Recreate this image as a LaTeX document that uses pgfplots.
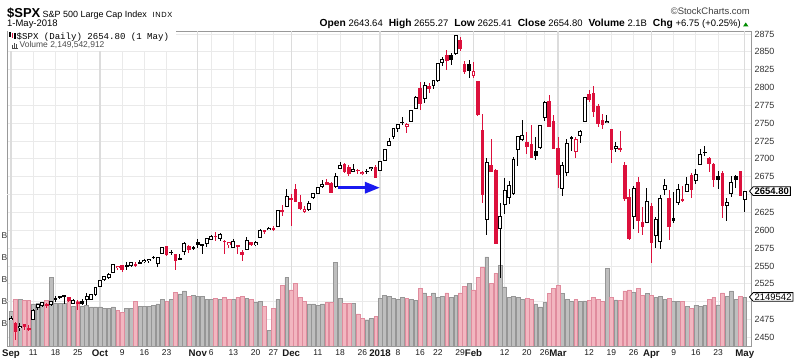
\documentclass[border=0pt]{standalone}
\usepackage{fontspec}
\setmainfont{Liberation Sans}
\setmonofont{Liberation Mono}
\usepackage{pgfplots}
\pgfplotsset{compat=1.18}
\usepackage{pgfplotstable}
\usetikzlibrary{arrows.meta,shapes.symbols}

\definecolor{cred}{RGB}{220,16,60}
\definecolor{vgray}{RGB}{190,190,190}
\definecolor{vgrayd}{RGB}{150,150,150}
\definecolor{vpink}{RGB}{242,182,192}
\definecolor{vpinkd}{RGB}{224,140,158}
\definecolor{gridc}{RGB}{234,234,234}
\definecolor{gridm}{RGB}{220,220,220}
\definecolor{arrblue}{RGB}{25,25,240}

% x index, t type (0 black hollow, 1 black filled, 2 red hollow, 3 red filled), OHLC, volume (billions)
\pgfplotstableread{
x t o h l c v
0 0 2474.42 2480.38 2473.85 2476.55 1.77
1 3 2470.35 2471.97 2446.55 2457.85 2.05
2 0 2463.83 2469.64 2459.20 2465.54 2.05
3 3 2468.06 2468.62 2460.29 2465.10 2.03
4 3 2462.25 2467.11 2459.40 2461.43 2.03
5 0 2474.52 2488.95 2474.52 2488.11 1.95
6 0 2491.94 2496.77 2488.92 2496.48 1.97
7 0 2493.89 2498.37 2492.14 2498.37 1.97
8 2 2494.56 2498.43 2491.35 2495.62 2.03
9 0 2495.67 2500.23 2493.16 2500.23 2.55
10 0 2502.51 2508.32 2499.92 2503.87 1.97
11 0 2506.29 2507.84 2503.19 2506.65 1.96
12 0 2506.84 2508.85 2496.67 2508.24 1.97
13 3 2507.16 2507.16 2499.00 2500.60 2.05
14 0 2497.26 2503.47 2496.54 2502.22 1.90
15 3 2499.39 2502.54 2488.03 2496.66 2.00
16 1 2501.04 2503.51 2495.12 2496.84 1.90
17 0 2503.30 2511.75 2495.91 2507.04 1.92
18 0 2503.41 2510.81 2502.93 2510.06 1.88
19 0 2509.96 2519.44 2507.99 2519.36 1.88
20 0 2521.20 2529.23 2520.40 2529.12 1.88
21 0 2530.34 2535.13 2528.85 2534.58 1.85
22 0 2533.48 2540.53 2531.80 2537.74 1.85
23 0 2540.86 2552.51 2540.02 2552.07 1.88
24 2 2547.44 2549.41 2543.79 2549.33 1.80
25 3 2551.39 2551.82 2541.60 2544.73 1.75
26 0 2549.99 2555.23 2544.86 2550.64 1.85
27 0 2550.62 2555.24 2547.95 2555.24 1.85
28 3 2552.88 2555.33 2548.31 2550.93 2.00
29 1 2555.66 2557.65 2552.09 2553.17 1.90
30 0 2555.57 2559.47 2553.86 2557.64 1.90
31 0 2557.17 2559.71 2554.69 2559.36 1.90
32 1 2562.87 2564.11 2559.67 2561.26 1.92
33 0 2553.39 2562.36 2547.92 2562.10 1.95
34 0 2567.56 2575.44 2567.56 2575.21 2.05
35 3 2578.08 2578.29 2564.33 2564.98 2.00
36 0 2568.66 2572.18 2565.58 2569.13 2.05
37 3 2566.52 2567.40 2544.00 2557.15 2.22
38 0 2560.08 2567.07 2559.80 2560.40 2.18
39 0 2570.26 2582.98 2565.94 2581.07 2.25
40 3 2577.75 2580.03 2568.25 2572.83 2.12
41 1 2575.99 2578.29 2572.15 2575.26 2.15
42 1 2583.21 2588.40 2574.92 2579.36 2.12
43 0 2579.46 2581.11 2566.17 2579.85 2.12
44 0 2581.93 2588.42 2576.77 2587.84 2.05
45 0 2587.47 2593.38 2585.66 2591.13 2.05
46 3 2592.11 2597.02 2584.35 2590.64 2.08
47 0 2588.71 2595.47 2585.02 2594.38 2.05
48 2 2584.00 2586.50 2566.33 2584.62 2.10
49 2 2580.18 2583.81 2575.57 2582.30 2.05
50 0 2576.53 2587.66 2574.48 2584.84 2.05
51 2 2577.75 2579.66 2566.56 2578.87 2.10
52 3 2569.45 2572.84 2557.45 2564.62 2.12
53 0 2572.95 2590.09 2572.95 2585.64 2.08
54 3 2582.94 2583.96 2577.62 2578.85 2.05
55 0 2579.49 2584.64 2578.24 2582.14 1.98
56 0 2589.17 2601.19 2589.17 2599.03 2.00
57 3 2600.31 2600.94 2595.23 2597.08 1.90
58 0 2600.42 2604.21 2600.42 2602.42 1.35
59 3 2602.66 2606.41 2598.87 2601.42 1.85
60 0 2605.94 2627.69 2605.44 2627.04 2.05
61 3 2627.82 2634.89 2620.32 2626.07 2.37
62 0 2633.93 2657.74 2633.93 2647.58 2.55
63 3 2645.10 2650.62 2605.52 2642.22 2.27
64 3 2657.19 2665.19 2639.03 2639.44 2.42
65 3 2639.78 2648.72 2627.73 2629.57 2.10
66 2 2626.24 2634.41 2624.75 2629.27 2.00
67 0 2628.38 2640.99 2626.53 2636.98 1.95
68 0 2646.21 2651.65 2644.10 2651.50 1.95
69 0 2652.19 2660.33 2651.47 2659.99 1.92
70 0 2661.73 2669.72 2659.78 2664.11 1.95
71 3 2667.59 2671.88 2662.85 2662.85 1.98
72 3 2665.87 2668.09 2652.01 2652.01 1.98
73 0 2660.63 2679.63 2659.14 2675.81 2.90
74 0 2685.92 2694.97 2685.92 2690.16 2.07
75 3 2692.71 2694.44 2680.74 2681.47 1.97
76 3 2688.18 2691.01 2676.11 2679.25 1.97
77 0 2683.02 2692.64 2682.40 2684.57 1.97
78 3 2684.22 2685.35 2678.13 2683.34 1.72
79 2 2679.09 2682.74 2677.96 2680.50 1.62
80 0 2682.10 2685.64 2678.91 2682.62 1.58
81 0 2686.10 2687.66 2682.69 2687.54 1.62
82 3 2689.15 2692.12 2673.61 2673.61 1.66
83 0 2683.73 2695.89 2682.36 2695.81 2.08
84 0 2697.85 2714.37 2697.77 2713.06 2.15
85 0 2719.31 2729.29 2719.07 2723.99 2.13
86 0 2731.33 2743.45 2727.92 2743.15 2.07
87 0 2742.67 2748.51 2737.60 2747.71 2.05
88 0 2751.15 2759.14 2747.86 2751.29 2.10
89 2 2745.55 2750.80 2736.06 2748.23 2.08
90 0 2752.97 2767.56 2752.78 2767.56 2.05
91 0 2770.18 2787.85 2769.64 2786.24 2.03
92 3 2798.96 2807.54 2768.64 2776.42 2.30
93 0 2784.99 2807.04 2778.38 2802.56 2.20
94 3 2802.40 2805.83 2792.56 2798.03 2.12
95 0 2802.60 2810.33 2798.08 2810.30 2.20
96 0 2809.16 2833.03 2808.12 2832.97 2.10
97 0 2835.05 2842.24 2830.59 2839.13 2.13
98 3 2845.42 2852.97 2824.81 2837.54 2.20
99 1 2846.24 2848.56 2830.94 2839.25 2.10
100 0 2847.48 2872.87 2846.18 2872.87 2.15
101 3 2867.23 2870.62 2851.48 2853.53 2.20
102 3 2832.74 2837.75 2818.27 2822.43 2.35
103 1 2832.41 2839.26 2813.04 2823.81 2.42
104 2 2816.45 2835.96 2812.70 2821.98 2.27
105 3 2808.92 2808.92 2759.97 2762.13 2.55
106 3 2741.06 2763.39 2638.17 2648.94 2.80
107 0 2614.78 2701.04 2593.07 2695.14 3.03
108 3 2690.95 2727.67 2681.33 2681.66 2.42
109 3 2685.01 2685.27 2580.56 2581.00 2.65
110 0 2601.78 2638.67 2532.69 2619.55 2.84
111 0 2636.75 2672.61 2622.45 2656.00 2.34
112 0 2646.27 2668.84 2637.08 2662.94 2.10
113 0 2651.21 2702.10 2648.87 2698.63 2.12
114 0 2713.46 2731.51 2689.82 2731.20 2.10
115 0 2727.14 2754.42 2725.11 2732.22 2.05
116 3 2722.99 2737.60 2706.76 2716.26 2.07
117 3 2720.53 2747.75 2701.29 2701.33 2.05
118 1 2710.42 2731.26 2697.77 2703.96 1.95
119 0 2715.80 2747.76 2713.74 2747.30 1.88
120 0 2757.37 2780.64 2753.78 2779.60 1.98
121 3 2780.45 2789.15 2744.22 2744.28 2.19
122 3 2753.78 2761.52 2713.54 2713.83 2.30
123 3 2715.22 2730.89 2659.65 2677.67 2.38
124 0 2658.89 2696.25 2647.32 2691.25 2.19
125 0 2681.06 2728.09 2675.75 2720.94 2.05
126 1 2730.18 2732.08 2711.26 2728.12 2.00
127 2 2710.18 2730.60 2701.74 2726.80 2.05
128 0 2732.75 2740.45 2721.65 2738.97 2.00
129 0 2752.91 2786.57 2751.54 2786.57 2.02
130 3 2790.54 2796.98 2779.26 2783.02 2.03
131 3 2792.31 2801.90 2758.68 2765.31 2.10
132 3 2774.06 2777.11 2744.38 2749.48 2.05
133 3 2754.27 2763.03 2741.47 2747.33 2.00
134 0 2750.57 2761.85 2749.97 2752.01 2.77
135 3 2741.38 2741.38 2694.59 2712.92 2.10
136 0 2715.05 2724.22 2710.05 2716.94 2.04
137 3 2714.99 2739.14 2709.79 2711.93 2.03
138 3 2691.36 2695.68 2641.59 2643.69 2.25
139 3 2646.71 2657.67 2585.89 2588.26 2.27
140 0 2619.35 2661.36 2601.81 2658.55 2.22
141 3 2667.57 2674.78 2596.12 2612.62 2.30
142 3 2611.30 2632.65 2593.06 2605.00 2.15
143 0 2610.79 2659.07 2609.72 2640.87 2.19
144 3 2633.45 2638.30 2553.80 2581.88 2.15
145 0 2592.17 2619.14 2575.49 2614.45 2.10
146 0 2584.04 2649.86 2573.61 2644.69 2.12
147 0 2657.36 2672.08 2649.58 2662.84 2.05
148 3 2645.82 2656.88 2586.27 2604.47 2.08
149 1 2617.18 2653.55 2610.79 2613.16 2.00
150 0 2638.41 2665.45 2635.78 2656.87 2.00
151 3 2643.74 2661.43 2639.25 2642.19 2.00
152 0 2653.83 2674.72 2653.83 2663.99 1.90
153 3 2676.90 2680.26 2645.05 2656.30 1.85
154 0 2670.10 2686.49 2665.16 2677.84 1.92
155 0 2692.74 2713.34 2692.05 2706.39 1.90
156 1 2710.11 2717.49 2703.63 2708.64 1.92
157 3 2701.16 2702.84 2681.90 2693.13 2.05
158 3 2692.56 2693.94 2660.61 2670.14 2.10
159 1 2675.40 2682.86 2657.99 2670.29 1.93
160 3 2680.80 2683.55 2617.32 2634.56 2.20
161 0 2634.92 2645.30 2612.67 2639.40 2.12
162 0 2651.65 2676.48 2647.16 2666.94 2.25
163 1 2675.47 2677.35 2659.01 2669.91 2.05
164 3 2682.51 2682.87 2648.04 2648.05 2.12
165 0 2643.64 2655.27 2625.41 2654.80 2.10
}\spx

\pgfplotsset{
  common/.style={scale only axis, width=744bp, height=315bp,
    at={(7bp,17bp)}, anchor=south west, xmin=-0.9, xmax=166.4},
  pricey/.style={ymin=2437.8, ymax=2879.2},
  ebar/.style 2 args={draw=none, mark=none,
    error bars/y dir=both, error bars/y explicit, error bars/error mark=none,
    error bars/error bar style={draw=#1, line width=#2, solid}},
}
\newcommand{\mon}[1]{\textbf{\fontsize{9.7}{10}\selectfont #1}}

\begin{document}
\begin{tikzpicture}
\path[use as bounding box] (0,0) rectangle (800bp,363bp);

% grid, frame and tick labels
\begin{axis}[common, pricey,
  axis line style={draw=black!40, line width=0.8bp},
  major tick length=0pt,
  ytick={2450,2475,2525,2550,2575,2600,2625,2675,2700,2725,2750,2775,2800,2825,2850,2875},
  extra y ticks={2500,2650}, extra y tick labels={},
  yticklabel pos=right,
  yticklabel={\pgfmathprintnumber[assume math mode=true,1000 sep={},fixed,precision=0]{\tick}},
  y tick label style={font=\fontsize{9}{10}\selectfont, color=black!80},
  xtick={0,5,10,15,20,25,30,35,42,45,50,55,59,63,69,74,79,83,87,92,96,101,104,111,116,120,123,130,135,140,144,149,154,159,165},
  xticklabels={\mon{Sep},11,18,25,\mon{Oct},9,16,23,\mon{Nov},6,13,20,27,\mon{Dec},11,18,26,\mon{2018},8,16,22,29,\mon{Feb},12,20,26,\mon{Mar},12,19,26,\mon{Apr},9,16,23,\mon{May}},
  x tick label style={font=\fontsize{8.5}{10}\selectfont, color=black!90},
  xmajorgrids, ymajorgrids,
  major grid style={draw=gridc, line width=0.8bp},
]
\addplot[draw=none] coordinates {(0,2500)};
\pgfplotsinvokeforeach{0,20,42,63,83,104,123,144,165}{
  \draw[draw=gridm, line width=1.3bp] (axis cs:#1,2437.8) -- (axis cs:#1,2879.2);
}
\end{axis}

% volume
\begin{axis}[common, hide axis, ymin=0.984, ymax=8.209]
\addplot[ybar, bar shift=0pt, bar width=3.8bp, fill=vgray, draw=vgrayd, line width=0.5bp,
  restrict expr to domain={\thisrow{t}}{0:1}] table[x=x, y=v]{\spx};
\addplot[ybar, bar shift=0pt, bar width=3.8bp, fill=vpink, draw=vpinkd, line width=0.5bp,
  restrict expr to domain={\thisrow{t}}{2:3}] table[x=x, y=v]{\spx};
\end{axis}

% candles
\begin{axis}[common, pricey, hide axis, clip=false]
% wicks
\addplot[restrict expr to domain={\thisrow{t}}{0:1}, ebar={black}{1bp}]
  table[x=x, y expr={(\thisrow{h}+\thisrow{l})/2}, y error expr={(\thisrow{h}-\thisrow{l})/2}]{\spx};
\addplot[restrict expr to domain={\thisrow{t}}{2:3}, ebar={cred}{1bp}]
  table[x=x, y expr={(\thisrow{h}+\thisrow{l})/2}, y error expr={(\thisrow{h}-\thisrow{l})/2}]{\spx};
% filled bodies
\addplot[restrict expr to domain={\thisrow{t}}{1:1}, ebar={black}{3.6bp}]
  table[x=x, y expr={(\thisrow{o}+\thisrow{c})/2}, y error expr={max(abs(\thisrow{o}-\thisrow{c})/2,0.75)}]{\spx};
\addplot[restrict expr to domain={\thisrow{t}}{3:3}, ebar={cred}{3.6bp}]
  table[x=x, y expr={(\thisrow{o}+\thisrow{c})/2}, y error expr={max(abs(\thisrow{o}-\thisrow{c})/2,0.75)}]{\spx};
% hollow bodies: outline then white interior
\addplot[restrict expr to domain={\thisrow{t}}{0:0}, ebar={black}{3.9bp}]
  table[x=x, y expr={(\thisrow{o}+\thisrow{c})/2}, y error expr={abs(\thisrow{o}-\thisrow{c})/2+0.7}]{\spx};
\addplot[restrict expr to domain={\thisrow{t}}{0:0}, ebar={white}{1.9bp}]
  table[x=x, y expr={(\thisrow{o}+\thisrow{c})/2}, y error expr={max(abs(\thisrow{o}-\thisrow{c})/2-0.7,0)}]{\spx};
\addplot[restrict expr to domain={\thisrow{t}}{2:2}, ebar={cred}{3.9bp}]
  table[x=x, y expr={(\thisrow{o}+\thisrow{c})/2}, y error expr={abs(\thisrow{o}-\thisrow{c})/2+0.7}]{\spx};
\addplot[restrict expr to domain={\thisrow{t}}{2:2}, ebar={white}{1.9bp}]
  table[x=x, y expr={(\thisrow{o}+\thisrow{c})/2}, y error expr={max(abs(\thisrow{o}-\thisrow{c})/2-0.7,0)}]{\spx};
% annotation arrow
\draw[draw=arrblue, line width=3bp, -{Triangle[length=15bp,width=11bp]}]
  (axis cs:73.6,2659.6) -- (axis cs:82.96,2659.6);
% last price tag
\node[signal, signal to=west, signal pointer angle=100, draw=black, fill=white, line width=0.8bp,
  inner xsep=1.5bp, inner ysep=1bp, anchor=west, font=\bfseries\fontsize{9.5}{10}\selectfont]
  at ([xshift=-2bp]axis cs:166.4,2654.8) {2654.80};
\end{axis}

% volume tag
\node[signal, signal to=west, signal pointer angle=100, draw=black, fill=white, line width=0.8bp,
  inner xsep=1.5bp, inner ysep=1bp, anchor=west, font=\fontsize{9.5}{10}\selectfont]
  at (749bp,66bp) {2149542};

% left volume scale (clipped labels)
\foreach \yy in {127,105.7,83,61.3,39.7}
  \node[anchor=east, inner sep=0pt, font=\fontsize{8.5}{10}\selectfont, color=black!80] at (7.5bp,\yy bp) {B};

% legend box
\fill[white] (8bp,312bp) rectangle (176bp,331.5bp);
\fill[black] (9bp,326bp) rectangle (10.5bp,331bp);
\fill[cred] (11.5bp,325bp) rectangle (13bp,329.5bp);
\fill[black] (14bp,324bp) rectangle (15.5bp,330bp);
\node[anchor=base west, inner sep=0pt, font=\ttfamily\fontsize{9.1}{10}\selectfont] at (16.5bp,323.7bp) {\$SPX (Daily) 2654.80 (1 May)};
\fill[black!70] (12bp,315bp) rectangle (13bp,318bp);
\fill[black!70] (14bp,315bp) rectangle (15bp,320bp);
\fill[black!70] (16bp,315bp) rectangle (17bp,319bp);
\fill[black!70] (11.5bp,314.5bp) rectangle (18bp,315.1bp);
\node[anchor=base west, inner sep=0pt, font=\fontsize{8.5}{10}\selectfont, color=black!70] at (19.5bp,315.3bp) {Volume 2,149,542,912};

% header
\node[anchor=base west, inner sep=0pt, font=\bfseries\fontsize{13}{14}\selectfont] at (7bp,345bp) {\$SPX};
\node[anchor=base west, inner sep=0pt, font=\fontsize{9}{10}\selectfont] at (42.5bp,345.7bp) {S\&P 500 Large Cap Index};
\node[anchor=base west, inner sep=0pt, font=\fontsize{7.5}{10}\selectfont\addfontfeature{LetterSpace=8}] at (152.5bp,345.7bp) {INDX};
\node[anchor=base west, inner sep=0pt, font=\fontsize{9.5}{10}\selectfont] at (7bp,336bp) {1-May-2018};
\node[anchor=base east, inner sep=0pt, font=\fontsize{9.5}{10}\selectfont, color=black!75] at (750bp,348bp) {\textcopyright StockCharts.com};
\node[anchor=base east, inner sep=0pt, font=\fontsize{9.5}{10}\selectfont] at (741bp,336bp)
  {\textbf{\fontsize{10.3}{10}\selectfont Open} 2643.64\hspace{6bp}\textbf{\fontsize{10.3}{10}\selectfont High} 2655.27\hspace{6bp}\textbf{\fontsize{10.3}{10}\selectfont Low} 2625.41\hspace{6bp}\textbf{\fontsize{10.3}{10}\selectfont Close} 2654.80\hspace{6bp}\textbf{\fontsize{10.3}{10}\selectfont Volume} 2.1B\hspace{6bp}\textbf{\fontsize{10.3}{10}\selectfont Chg} +6.75 (+0.25\%)};
\fill[green!55!black] (743bp,336.5bp) -- (748.5bp,336.5bp) -- (745.75bp,340.5bp) -- cycle;
\end{tikzpicture}
\end{document}
